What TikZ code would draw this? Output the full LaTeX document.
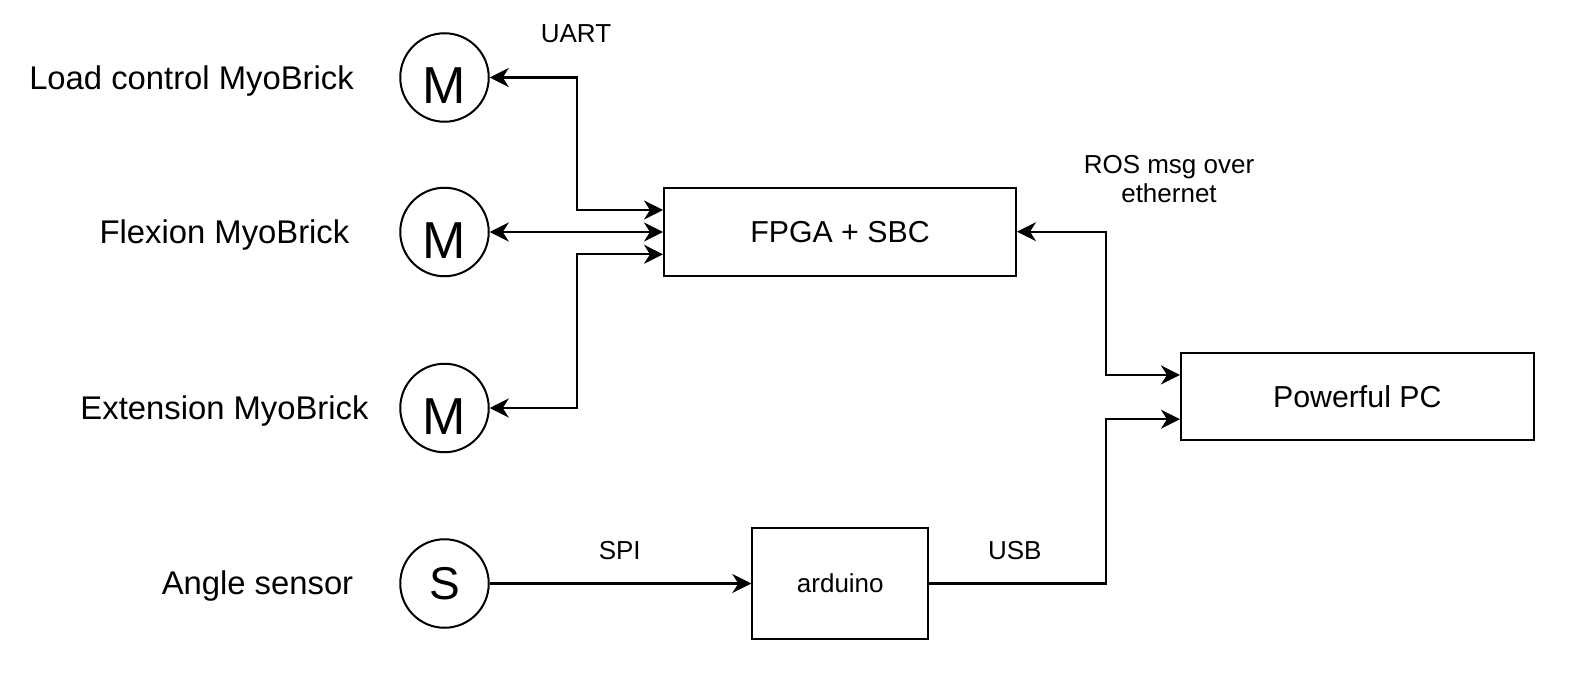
\documentclass[tikz,border=0pt]{standalone}
\usepackage{fontspec}
\setmainfont{Liberation Sans}
\usetikzlibrary{arrows.meta,calc}
\begin{document}
\begin{tikzpicture}[x=1pt,y=-1pt,
  motor/.style={circle,draw,line width=2pt,minimum size=88.5pt,inner sep=0pt},
  mletter/.style={font=\fontsize{52}{56}\selectfont,text height=53pt,text depth=0pt},
  blk/.style={draw,line width=2pt,inner sep=0pt},
  big/.style={font=\fontsize{32.8}{38}\selectfont,anchor=base},
  mid/.style={font=\fontsize{30.3}{34}\selectfont},
  sml/.style={font=\fontsize{26}{28.5}\selectfont},
  conn/.style={line width=2.2pt},
  oneway/.style={conn,arrows={-Stealth[length=19pt,width=19pt,inset=6pt]}},
  twoway/.style={conn,arrows={Stealth[length=19pt,width=19pt,inset=6pt]-Stealth[length=19pt,width=19pt,inset=6pt]}}]
\fill[white] (0,0) rectangle (1580,698);
\useasboundingbox (0,0) rectangle (1580,698);

% motors and sensor
\node[motor,mletter] (m1) at (444.5,77.5) {M};
\node[motor,mletter] (m2) at (444.5,232) {M};
\node[motor,mletter] (m3) at (444.5,408) {M};
\node[motor,font=\fontsize{46}{50}\selectfont] (s) at (444.5,583.5) {S};

% left labels
\node[big] (l1) at (191.5,89.5) {Load control MyoBrick};
\node[big] (l2) at (224.5,243.5) {Flexion MyoBrick};
\node[big] (l3) at (224.5,419.5) {Extension MyoBrick};
\node[big] (l4) at (257.5,594.5) {Angle sensor};

% blocks
\node[blk,mid,minimum width=352pt,minimum height=88pt] (fpga) at (840,231.7) {FPGA + SBC};
\node[blk,mid,minimum width=352.7pt,minimum height=87.7pt] (pc) at (1357.3,396.5) {Powerful PC};
\node[blk,sml,minimum width=176pt,minimum height=110.8pt] (ard) at (840.3,583.5) {arduino};

% connector labels
\node[sml,anchor=base] (uart) at (576,42.3) {UART};
\node[sml,anchor=base] (spi) at (619.7,559.5) {SPI};
\node[sml,anchor=base] (usb) at (1014.8,559.5) {USB};
\node[sml,anchor=base,align=center] (ros) at (1169,202) {ROS msg over\\ethernet};

% connectors
\draw[twoway] (m1.east) -| (576.7,210) -- (fpga.west |- 0,210);
\draw[twoway] (m2.east) -- (fpga.west |- m2.east);
\draw[twoway] (m3.east) -| (576.7,254.3) -- (fpga.west |- 0,254.3);
\draw[twoway] (fpga.east) -| (1106,374.9) -- (pc.west |- 0,374.9);
\draw[oneway] (s.east) -- (ard.west |- s.east);
\draw[oneway] (ard.east) -| (1106,419.2) -- (pc.west |- 0,419.2);
\end{tikzpicture}
\end{document}
